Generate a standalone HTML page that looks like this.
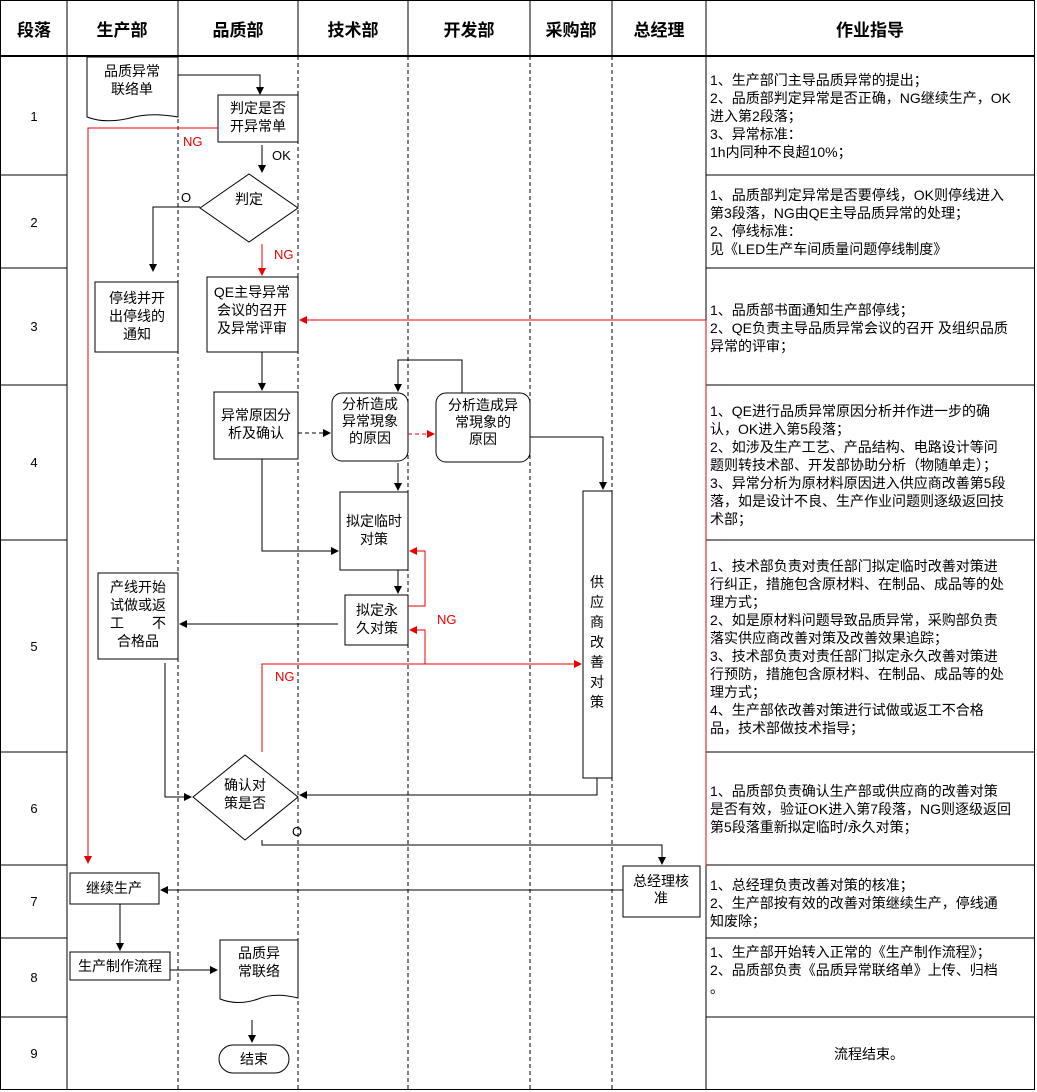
<!DOCTYPE html>
<html><head><meta charset="utf-8"><style>
body{margin:0;background:#fff;}
#w{position:relative;width:1037px;height:1092px;overflow:hidden;font-family:"Liberation Sans","Noto Sans CJK SC",sans-serif;}
svg{position:absolute;left:0;top:0;}
.t{position:absolute;left:710px;font-size:14px;line-height:18px;white-space:nowrap;color:#000;}
</style></head><body><div id="w">
<svg width="1037" height="1092" viewBox="0 0 1037 1092" font-family="Liberation Sans, Noto Sans CJK SC, sans-serif">
<defs>
<marker id="a" markerWidth="8" markerHeight="8" refX="7" refY="4" orient="auto" markerUnits="userSpaceOnUse"><path d="M0,0 L8,4 L0,8z" fill="#000"/></marker>
<marker id="r" markerWidth="8" markerHeight="8" refX="7" refY="4" orient="auto" markerUnits="userSpaceOnUse"><path d="M0,0 L8,4 L0,8z" fill="#e00"/></marker>
</defs>
<g stroke="#000" fill="none" stroke-width="1">
<rect x="0.5" y="0.5" width="1034" height="1089"/>
<line x1="0" y1="56" x2="1035" y2="56" stroke-width="2"/>
<line x1="67" y1="0" x2="67" y2="1090"/>
<line x1="706" y1="0" x2="706" y2="1090"/>
<line x1="178" y1="0" x2="178" y2="56"/><line x1="298" y1="0" x2="298" y2="56"/>
<line x1="408" y1="0" x2="408" y2="56"/><line x1="530" y1="0" x2="530" y2="56"/>
<line x1="612" y1="0" x2="612" y2="56"/>
<g stroke-dasharray="4,3">
<line x1="178" y1="56" x2="178" y2="1090"/><line x1="298" y1="56" x2="298" y2="1090"/>
<line x1="408" y1="56" x2="408" y2="1090"/><line x1="530" y1="56" x2="530" y2="1090"/>
<line x1="612" y1="56" x2="612" y2="1090"/>
</g>
<g>
<line x1="0" y1="175" x2="67" y2="175"/><line x1="706" y1="175" x2="1035" y2="175"/>
<line x1="0" y1="268" x2="67" y2="268"/><line x1="706" y1="268" x2="1035" y2="268"/>
<line x1="0" y1="385" x2="67" y2="385"/><line x1="706" y1="385" x2="1035" y2="385"/>
<line x1="0" y1="540" x2="67" y2="540"/><line x1="706" y1="540" x2="1035" y2="540"/>
<line x1="0" y1="752" x2="67" y2="752"/><line x1="706" y1="752" x2="1035" y2="752"/>
<line x1="0" y1="865" x2="67" y2="865"/><line x1="706" y1="865" x2="1035" y2="865"/>
<line x1="0" y1="938" x2="67" y2="938"/><line x1="706" y1="938" x2="1035" y2="938"/>
<line x1="0" y1="1017" x2="67" y2="1017"/><line x1="706" y1="1017" x2="1035" y2="1017"/>
</g>
<line x1="706" y1="320" x2="706" y2="866" stroke="#e00"/>
<!-- shapes -->
<path d="M87,57 H178 V117 Q150,112 130,118 Q105,124 87,117 Z" fill="#fff"/>
<rect x="218" y="95" width="80" height="47" fill="#fff"/>
<polygon points="200,208 249,174 298,208 249,242" fill="#fff"/>
<rect x="95" y="282" width="83" height="70"/>
<rect x="207" y="277" width="91" height="75"/>
<rect x="214" y="392" width="84" height="67"/>
<rect x="332" y="393" width="76" height="68" rx="10"/>
<rect x="436" y="393" width="94" height="69" rx="10"/>
<rect x="583" y="491" width="29" height="287"/>
<rect x="340" y="492" width="68" height="78"/>
<rect x="345" y="595" width="63" height="50"/>
<rect x="98" y="573" width="80" height="86"/>
<polygon points="193,797 245,755 298,797 245,840" fill="#fff"/>
<rect x="623" y="866" width="77" height="51"/>
<rect x="70" y="873" width="89" height="31"/>
<rect x="70" y="952" width="100" height="28"/>
<path d="M220,940 H298 V998 Q275,992 258,999 Q238,1006 220,999 Z"/>
<rect x="219" y="1045" width="70" height="28" rx="14"/>
<!-- connectors -->
<polyline points="178,75 260,75 260,94" marker-end="url(#a)"/>
<line x1="262" y1="145" x2="262" y2="172" marker-end="url(#a)"/>
<polyline points="200,207 153,207 153,271" marker-end="url(#a)"/>
<line x1="262" y1="352" x2="262" y2="390" marker-end="url(#a)"/>
<line x1="298" y1="433" x2="330" y2="433" stroke-dasharray="4,3" marker-end="url(#a)"/>
<polyline points="462,393 462,360 398,360 398,391" marker-end="url(#a)"/>
<polyline points="530,437 603,437 603,489" marker-end="url(#a)"/>
<line x1="398" y1="463" x2="398" y2="490" marker-end="url(#a)"/>
<polyline points="262,459 262,551 338,551" marker-end="url(#a)"/>
<line x1="398" y1="570" x2="398" y2="593" marker-end="url(#a)"/>
<line x1="338" y1="624" x2="180" y2="624" marker-end="url(#a)"/>
<polyline points="165,663 165,797 191,797" marker-end="url(#a)"/>
<polyline points="597,778 597,795 300,795" marker-end="url(#a)"/>
<polyline points="262,840 262,845 662,845 662,864" marker-end="url(#a)"/>
<line x1="623" y1="890" x2="161" y2="890" marker-end="url(#a)"/>
<line x1="120" y1="904" x2="120" y2="950" marker-end="url(#a)"/>
<line x1="170" y1="970" x2="217" y2="970" marker-end="url(#a)"/>
<line x1="252" y1="1020" x2="252" y2="1042" marker-end="url(#a)"/>
<g stroke="#e00">
<polyline points="218,128 88,128 88,863" marker-end="url(#r)"/>
<line x1="262" y1="244" x2="262" y2="275" marker-end="url(#r)"/>
<line x1="706" y1="320" x2="300" y2="320" marker-end="url(#r)"/>
<line x1="408" y1="434" x2="434" y2="434" stroke-dasharray="4,3" marker-end="url(#r)"/>
<polyline points="408,606 425,606 425,551 410,551" marker-end="url(#r)"/>
<polyline points="262,752 262,664 581,664" marker-end="url(#r)"/>
<polyline points="425,664 425,630 410,630" marker-end="url(#r)"/>
</g>
</g>
<g font-size="17" font-weight="bold" text-anchor="middle">
<text x="34" y="36">段落</text><text x="122" y="36">生产部</text><text x="238" y="36">品质部</text>
<text x="353" y="36">技术部</text><text x="469" y="36">开发部</text><text x="571" y="36">采购部</text>
<text x="659" y="36">总经理</text><text x="870" y="36">作业指导</text>
</g>
<g font-size="13" text-anchor="middle">
<text x="34" y="121">1</text><text x="34" y="227">2</text><text x="34" y="331">3</text>
<text x="34" y="467">4</text><text x="34" y="651">5</text><text x="34" y="813">6</text>
<text x="34" y="906">7</text><text x="34" y="982">8</text><text x="34" y="1058">9</text>
</g>
<g font-size="14" text-anchor="middle">
<text x="132" y="76">品质异常</text><text x="132" y="94">联络单</text>
<text x="258" y="113">判定是否</text><text x="258" y="131">开异常单</text>
<text x="249" y="204">判定</text>
<text x="137" y="303">停线并开</text><text x="137" y="321">出停线的</text><text x="137" y="339">通知</text>
<text x="252" y="297">QE主导异常</text><text x="252" y="315">会议的召开</text><text x="252" y="333">及异常评审</text>
<text x="256" y="420">异常原因分</text><text x="256" y="438">析及确认</text>
<text x="370" y="409">分析造成</text><text x="370" y="426">异常現象</text><text x="370" y="443">的原因</text>
<text x="483" y="410">分析造成异</text><text x="483" y="427">常現象的</text><text x="483" y="444">原因</text>
<text x="374" y="526">拟定临时</text><text x="374" y="544">对策</text>
<text x="377" y="615">拟定永</text><text x="377" y="633">久对策</text>
<text x="138" y="592">产线开始</text><text x="138" y="610">试做或返</text><text x="138" y="628">工　　不</text><text x="138" y="646">合格品</text>
<text x="245" y="790">确认对</text><text x="245" y="808">策是否</text>
<text x="661" y="886">总经理核</text><text x="661" y="903">准</text>
<text x="114" y="893">继续生产</text>
<text x="120" y="971">生产制作流程</text>
<text x="259" y="958">品质异</text><text x="259" y="976">常联络</text>
<text x="254" y="1064">结束</text>
<text x="597" y="587">供</text><text x="597" y="607">应</text><text x="597" y="627">商</text><text x="597" y="647">改</text><text x="597" y="667">善</text><text x="597" y="687">对</text><text x="597" y="707">策</text>
</g>
<g font-size="13">
<text x="272" y="160">OK</text><text x="181" y="202">O</text><text x="292" y="836">O</text>
<g fill="#e00"><text x="183" y="146">NG</text><text x="274" y="259">NG</text><text x="437" y="624">NG</text><text x="275" y="681">NG</text></g>
</g>
</svg>
<div class="t" style="top:71px">1、生产部门主导品质异常的提出；<br>2、品质部判定异常是否正确，NG继续生产，OK<br>进入第2段落；<br>3、异常标准：<br>1h内同种不良超10%；</div>
<div class="t" style="top:186px">1、品质部判定异常是否要停线，OK则停线进入<br>第3段落，NG由QE主导品质异常的处理；<br>2、停线标准：<br>见《LED生产车间质量问题停线制度》</div>
<div class="t" style="top:301px">1、品质部书面通知生产部停线；<br>2、QE负责主导品质异常会议的召开 及组织品质<br>异常的评审；</div>
<div class="t" style="top:402px">1、QE进行品质异常原因分析并作进一步的确<br>认，OK进入第5段落；<br>2、如涉及生产工艺、产品结构、电路设计等问<br>题则转技术部、开发部协助分析（物随单走）；<br>3、异常分析为原材料原因进入供应商改善第5段<br>落，如是设计不良、生产作业问题则逐级返回技<br>术部；</div>
<div class="t" style="top:557px">1、技术部负责对责任部门拟定临时改善对策进<br>行纠正，措施包含原材料、在制品、成品等的处<br>理方式；<br>2、如是原材料问题导致品质异常，采购部负责<br>落实供应商改善对策及改善效果追踪；<br>3、技术部负责对责任部门拟定永久改善对策进<br>行预防，措施包含原材料、在制品、成品等的处<br>理方式；<br>4、生产部依改善对策进行试做或返工不合格<br>品，技术部做技术指导；</div>
<div class="t" style="top:782px">1、品质部负责确认生产部或供应商的改善对策<br>是否有效，验证OK进入第7段落，NG则逐级返回<br>第5段落重新拟定临时/永久对策；</div>
<div class="t" style="top:876px">1、总经理负责改善对策的核准；<br>2、生产部按有效的改善对策继续生产，停线通<br>知废除；</div>
<div class="t" style="top:943px">1、生产部开始转入正常的《生产制作流程》；<br>2、品质部负责《品质异常联络单》上传、归档<br>。</div>
<div class="t" style="top:1045px;left:834px">流程结束。</div>
</div></body></html>
